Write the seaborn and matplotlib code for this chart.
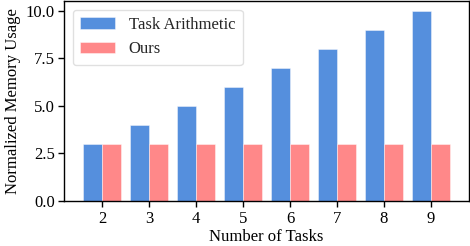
import pandas as pd
import seaborn as sns
import matplotlib.pyplot as plt

num_tasks = [2, 3, 4, 5, 6, 7, 8, 9]
task_arithmetic = [3, 4, 5, 6, 7, 8, 9, 10]
ours = [3, 3, 3, 3, 3, 3, 3, 3]

df = pd.DataFrame({
    "Number of Tasks": num_tasks * 2,
    "Normalized Memory Usage": task_arithmetic + ours,
    "Method": ["Task Arithmetic"] * len(num_tasks) + ["Ours"] * len(num_tasks),
})

sns.set_theme(style="ticks")
plt.rcParams["font.family"] = ["Liberation Serif", "DejaVu Serif"]

fig, ax = plt.subplots(figsize=(4.7, 2.46), dpi=100)
sns.barplot(
    data=df, x="Number of Tasks", y="Normalized Memory Usage", hue="Method",
    palette=["#558FDD", "#FF8889"], saturation=1, width=0.8,
    edgecolor="white", linewidth=0.6, ax=ax,
)
for p in ax.patches:
    p.set_edgecolor((1, 1, 1, 0.5))

ax.set_xlim(-0.8, 7.8)
ax.set_ylim(0, 10.5)
ax.set_yticks([0, 2.5, 5.0, 7.5, 10.0])
ax.set_yticklabels(["0.0", "2.5", "5.0", "7.5", "10.0"])
ax.tick_params(labelsize=12, width=1, length=4, pad=3, color="black", labelcolor="black")
ax.set_xlabel("Number of Tasks", fontsize=12, color="black", labelpad=2)
ax.set_ylabel("Normalized Memory Usage", fontsize=12, color="black", labelpad=3)
for s in ax.spines.values():
    s.set_visible(True)
    s.set_color("black")
    s.set_linewidth(1)

leg = ax.legend(loc="upper left", fontsize=12, frameon=True, fancybox=True,
                handlelength=2.1, handleheight=0.7, borderpad=0.45, labelspacing=0.5,
                handletextpad=0.8)
leg.set_title(None)
leg.get_frame().set_edgecolor("#d9d9d9")

fig.subplots_adjust(left=0.137, right=0.997, top=0.995, bottom=0.183)
fig.savefig("out.png", dpi=100)
